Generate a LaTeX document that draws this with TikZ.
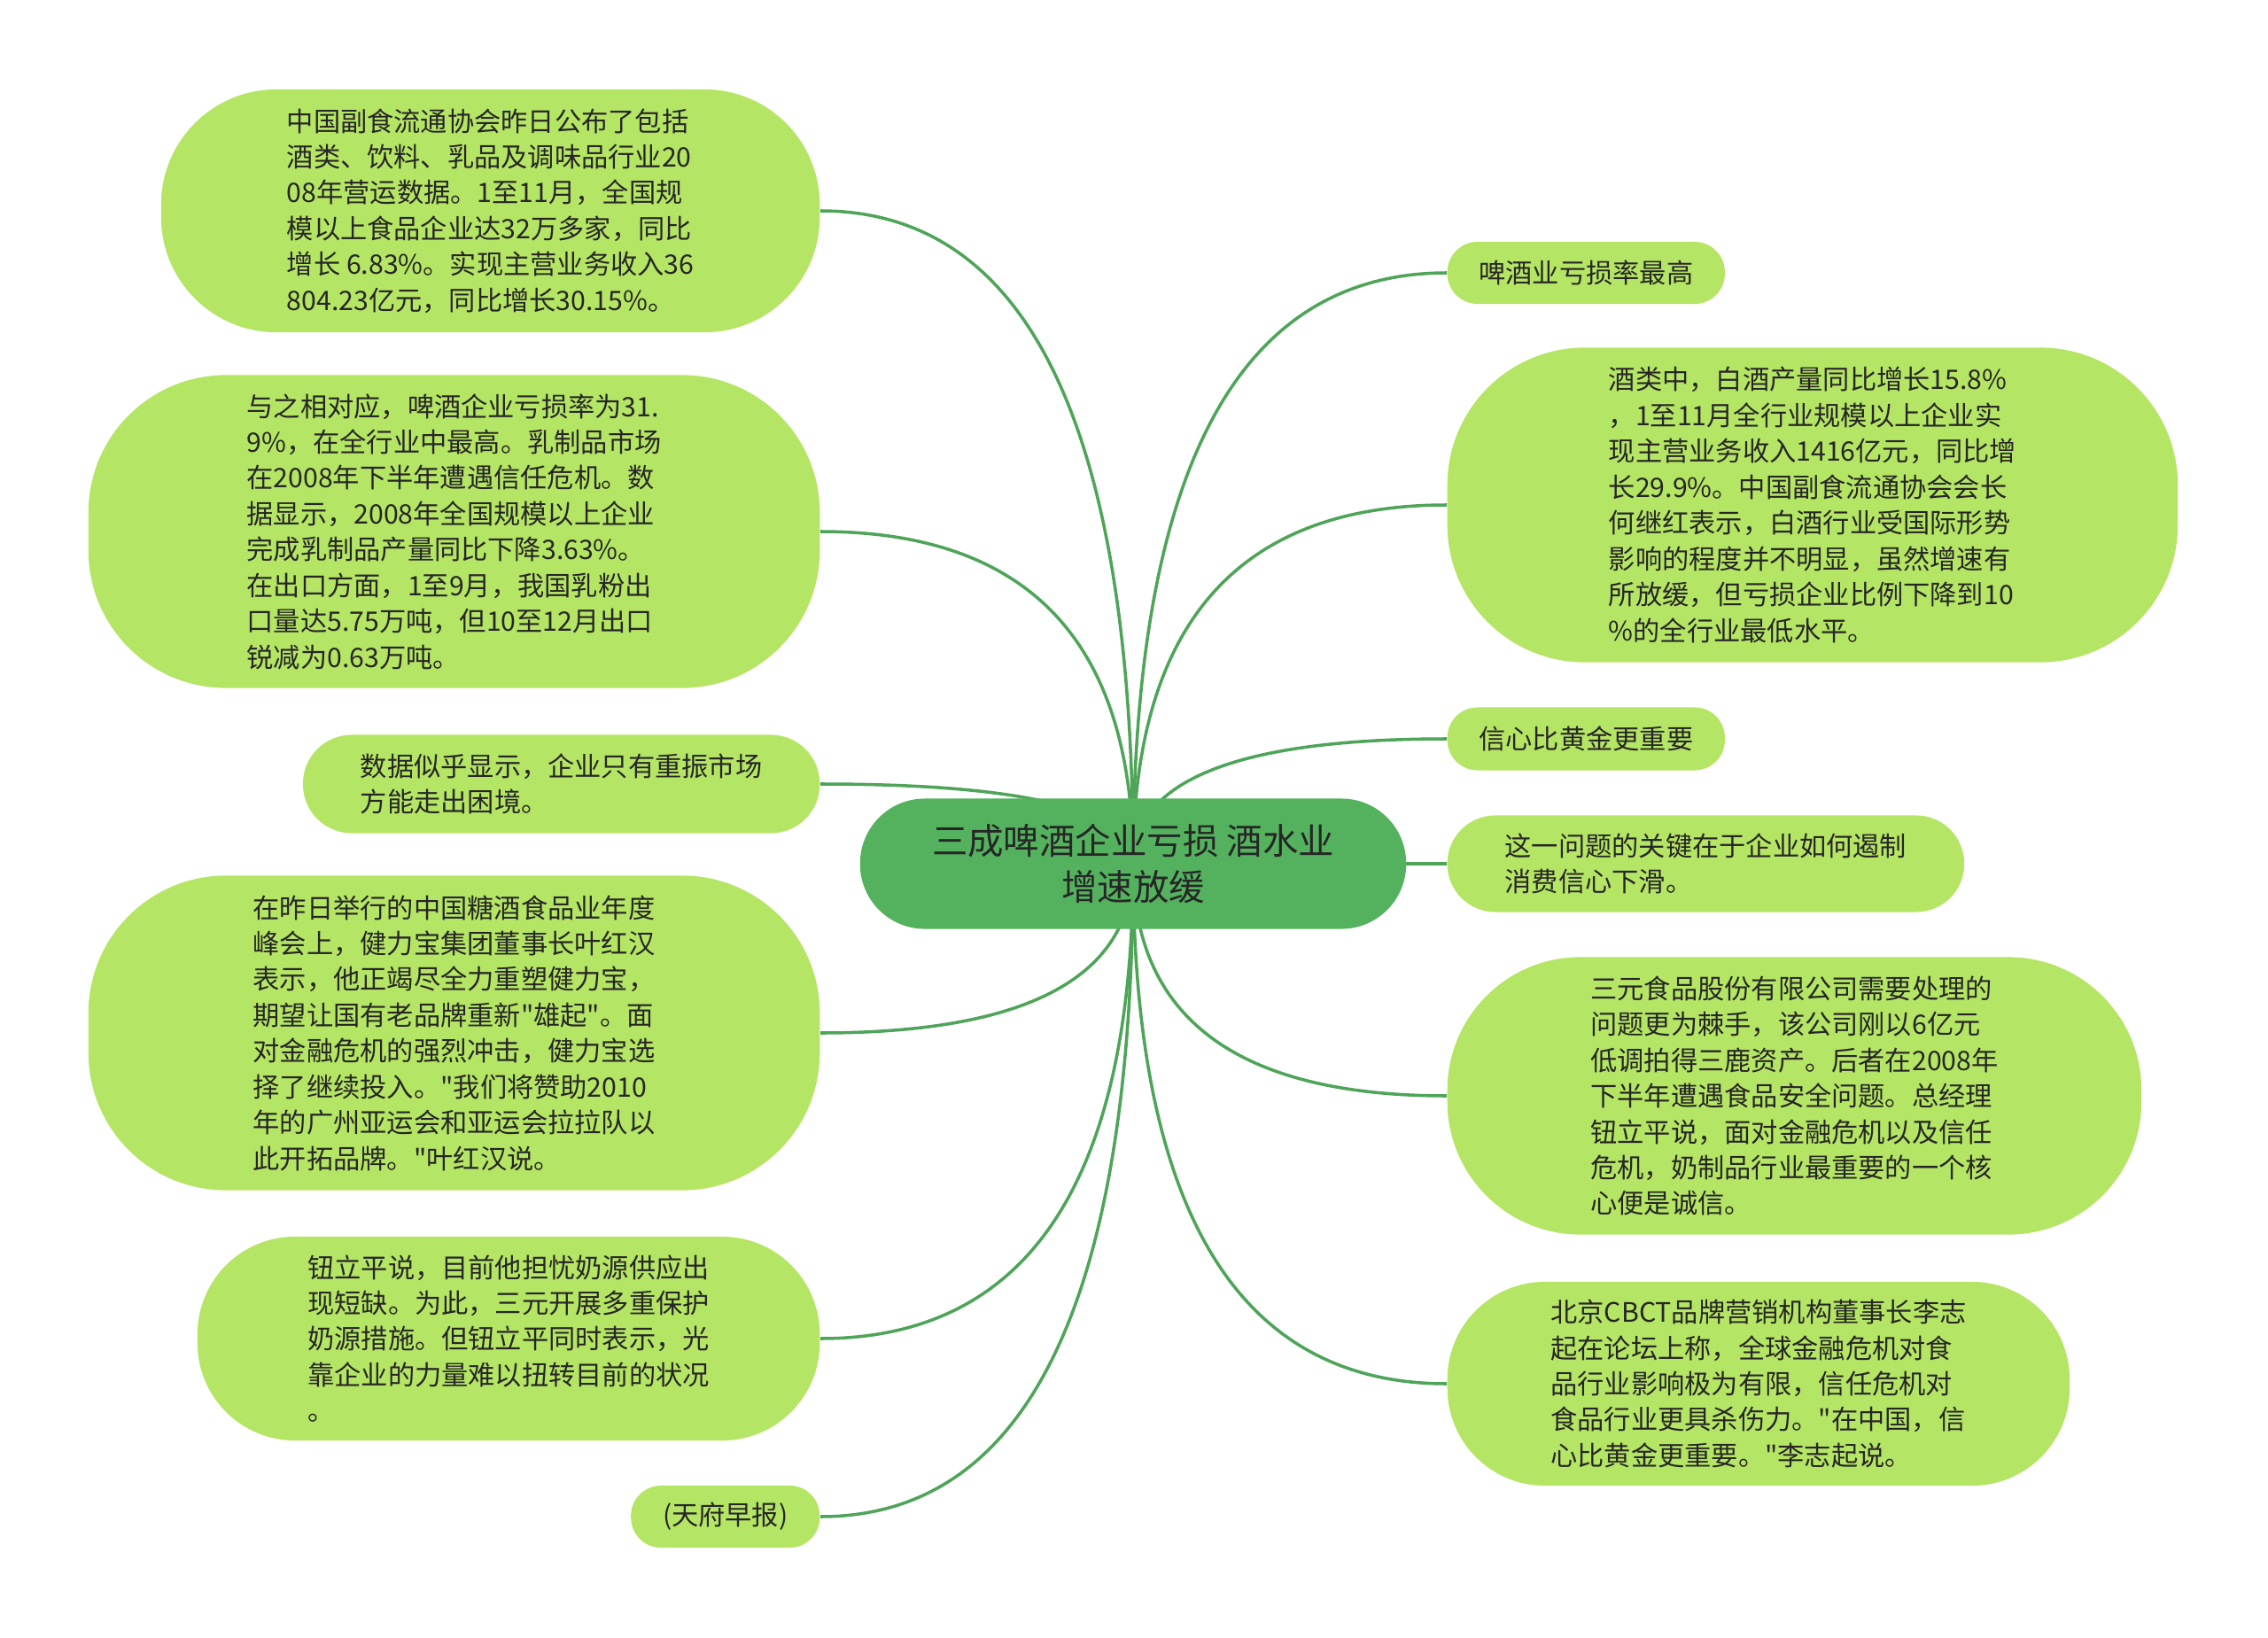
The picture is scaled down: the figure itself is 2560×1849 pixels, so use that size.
\documentclass[tikz,border=0pt]{standalone}
\usepackage{fontspec}
\newfontfamily\cnfont{Noto Sans CJK SC}
\usetikzlibrary{calc, backgrounds}

\definecolor{rootgreen}{RGB}{84,178,94}
\definecolor{leafgreen}{RGB}{181,229,100}
\definecolor{branchgreen}{RGB}{78,164,88}
\definecolor{inkgray}{RGB}{38,38,38}

\begin{document}
\begin{tikzpicture}[
    x=0.01cm, y=-0.01cm,
    root/.style={rectangle, fill=rootgreen, text=inkgray, align=center, inner sep=0pt, minimum width=6.16cm, minimum height=1.47cm, rounded corners=0.73cm, font=\cnfont\fontsize{11.5pt}{14.8pt}\selectfont},
    leaf/.style={rectangle, fill=leafgreen, text=inkgray, align=left, inner sep=0pt, font=\cnfont\fontsize{8.6pt}{11.5pt}\selectfont},
    branch/.style={draw=branchgreen, line width=1pt, to path={.. controls ($(\tikztostart)!2/3!(\tikztostart |- \tikztotarget)$) and ($(\tikztotarget)!2/3!(\tikztostart |- \tikztotarget)$) .. (\tikztotarget)}}
]
\path[use as bounding box] (0,0) rectangle (2560,1849);

% Root
\node[root] (ctr) at (1279,975) {三成啤酒企业亏损 酒水业\\增速放缓};

% Left branch
\node[leaf, anchor=east, minimum width=7.43cm, minimum height=2.74cm, rounded corners=1.3cm] (stats) at (926,238) {中国副食流通协会昨日公布了包括\\
酒类、饮料、乳品及调味品行业20\\
08年营运数据。1至11月，全国规\\
模以上食品企业达32万多家，同比\\
增长 6.83\%。实现主营业务收入36\\
804.23亿元，同比增长30.15\%。};
\node[leaf, anchor=east, minimum width=8.25cm, minimum height=3.53cm, rounded corners=1.55cm] (beerloss) at (926,600) {与之相对应，啤酒企业亏损率为31.\\
9\%，在全行业中最高。乳制品市场\\
在2008年下半年遭遇信任危机。数\\
据显示，2008年全国规模以上企业\\
完成乳制品产量同比下降3.63\%。\\
在出口方面，1至9月，我国乳粉出\\
口量达5.75万吨，但10至12月出口\\
锐减为0.63万吨。};
\node[leaf, anchor=east, minimum width=5.83cm, minimum height=1.11cm, rounded corners=0.55cm] (revive) at (926,885) {数据似乎显示，企业只有重振市场\\
方能走出困境。};
\node[leaf, anchor=east, minimum width=8.25cm, minimum height=3.55cm, rounded corners=1.55cm] (jianlibao) at (926,1166) {在昨日举行的中国糖酒食品业年度\\
峰会上，健力宝集团董事长叶红汉\\
表示，他正竭尽全力重塑健力宝，\\
期望让国有老品牌重新"雄起"。面\\
对金融危机的强烈冲击，健力宝选\\
择了继续投入。"我们将赞助2010\\
年的广州亚运会和亚运会拉拉队以\\
此开拓品牌。"叶红汉说。};
\node[leaf, anchor=east, minimum width=7.02cm, minimum height=2.30cm, rounded corners=1.1cm] (milksrc) at (926,1511) {钮立平说，目前他担忧奶源供应出\\
现短缺。为此，三元开展多重保护\\
奶源措施。但钮立平同时表示，光\\
靠企业的力量难以扭转目前的状况\\
。};
\node[leaf, anchor=east, minimum width=2.13cm, minimum height=0.70cm, rounded corners=0.34cm] (source) at (926,1712) {(天府早报)};

% Right branch
\node[leaf, anchor=west, minimum width=3.13cm, minimum height=0.70cm, rounded corners=0.34cm] (beerhead) at (1633,308) {啤酒业亏损率最高};
\node[leaf, anchor=west, minimum width=8.24cm, minimum height=3.55cm, rounded corners=1.55cm] (liquor) at (1633,570) {酒类中，白酒产量同比增长15.8\%\\
，1至11月全行业规模以上企业实\\
现主营业务收入1416亿元，同比增\\
长29.9\%。中国副食流通协会会长\\
何继红表示，白酒行业受国际形势\\
影响的程度并不明显，虽然增速有\\
所放缓，但亏损企业比例下降到10\\
\%的全行业最低水平。};
\node[leaf, anchor=west, minimum width=3.13cm, minimum height=0.71cm, rounded corners=0.34cm] (confhead) at (1633,834) {信心比黄金更重要};
\node[leaf, anchor=west, minimum width=5.83cm, minimum height=1.09cm, rounded corners=0.54cm] (keyissue) at (1633,975) {这一问题的关键在于企业如何遏制\\
消费信心下滑。};
\node[leaf, anchor=west, minimum width=7.83cm, minimum height=3.13cm, rounded corners=1.5cm] (sanyuan) at (1633,1237) {三元食品股份有限公司需要处理的\\
问题更为棘手，该公司刚以6亿元\\
低调拍得三鹿资产。后者在2008年\\
下半年遭遇食品安全问题。总经理\\
钮立平说，面对金融危机以及信任\\
危机，奶制品行业最重要的一个核\\
心便是诚信。};
\node[leaf, anchor=west, minimum width=7.02cm, minimum height=2.30cm, rounded corners=1.1cm] (cbct) at (1633,1562) {北京CBCT品牌营销机构董事长李志\\
起在论坛上称，全球金融危机对食\\
品行业影响极为有限，信任危机对\\
食品行业更具杀伤力。"在中国，信\\
心比黄金更重要。"李志起说。};

% Connectors
\begin{scope}[on background layer]
\fill[white] (0,0) rectangle (2560,1849);
\draw[branch] (ctr.center) to (stats.east);
\draw[branch] (ctr.center) to (beerloss.east);
\draw[branch] (ctr.center) to (revive.east);
\draw[branch] (ctr.center) to (jianlibao.east);
\draw[branch] (ctr.center) to (milksrc.east);
\draw[branch] (ctr.center) to (source.east);
\draw[branch] (ctr.center) to (beerhead.west);
\draw[branch] (ctr.center) to (liquor.west);
\draw[branch] (ctr.center) to (confhead.west);
\draw[branch] (ctr.center) to (keyissue.west);
\draw[branch] (ctr.center) to (sanyuan.west);
\draw[branch] (ctr.center) to (cbct.west);
\end{scope}

\end{tikzpicture}
\end{document}
